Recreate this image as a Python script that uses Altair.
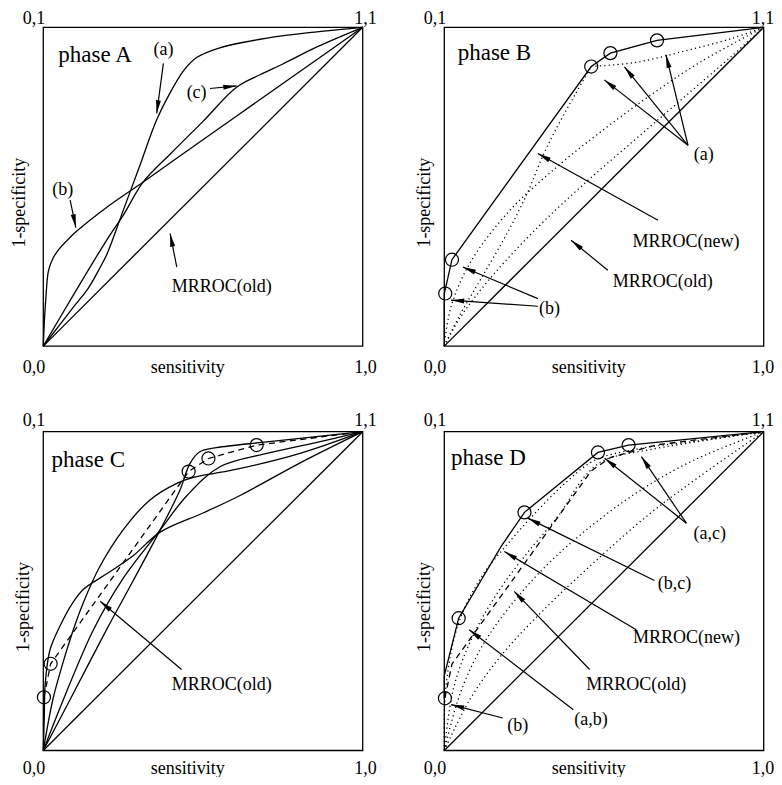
import math
import altair as alt
import pandas as pd

# ---------------- data (normalised panel coordinates: x = sensitivity, y = 1-specificity) ----
# Phase A
A_CURVE_A_X = [0, 0.05, 0.094, 0.14, 0.177, 0.20, 0.25, 0.30, 0.355, 0.40, 0.44, 0.48, 0.55, 0.70, 0.85, 1]
A_CURVE_A_Y = [0, 0.065, 0.122, 0.18, 0.245, 0.29, 0.425, 0.56, 0.71, 0.80, 0.865, 0.905, 0.935, 0.966, 0.985, 1]
A_CURVE_B_X = [0, 0.003, 0.008, 0.016, 0.03, 0.05, 0.073, 0.104, 0.198, 0.313, 0.45, 0.6, 0.8, 1]
A_CURVE_B_Y = [0, 0.07, 0.15, 0.235, 0.275, 0.305, 0.33, 0.36, 0.435, 0.515, 0.612, 0.718, 0.859, 1]
A_CURVE_C_X = [0, 0.10, 0.20, 0.25, 0.313, 0.40, 0.50, 0.605, 0.68, 0.75, 0.86, 1]
A_CURVE_C_Y = [0, 0.17, 0.335, 0.41, 0.515, 0.605, 0.705, 0.812, 0.852, 0.885, 0.94, 1]

# Phase B
B_NEW_X = [0, 0, 0.024, 0.46, 0.52, 0.666, 1]
B_NEW_Y = [0, 0.165, 0.271, 0.877, 0.919, 0.959, 1]
B_CIRCLE_X = [0.003, 0.024, 0.46, 0.52, 0.666]
B_CIRCLE_Y = [0.165, 0.271, 0.877, 0.919, 0.959]
B_DOT1_X = [0, 0.05, 0.12, 0.2, 0.26, 0.31, 0.36, 0.41, 0.46]
B_DOT1_Y = [0, 0.10, 0.22, 0.36, 0.48, 0.60, 0.70, 0.79, 0.877]
B_DOT2_X = [0, 0.02, 0.08, 0.2, 0.35, 0.5, 0.65, 0.8, 1]
B_DOT2_Y = [0, 0.12, 0.26, 0.42, 0.56, 0.68, 0.79, 0.89, 1]
B_DOT3_X = [0, 0.05, 0.15, 0.3, 0.45, 0.6, 0.75, 0.9, 1]
B_DOT3_Y = [0, 0.09, 0.22, 0.38, 0.52, 0.65, 0.78, 0.91, 1]
B_DOT4_X = [0.46, 0.6, 0.75, 0.9, 1]
B_DOT4_Y = [0.877, 0.89, 0.925, 0.965, 1]

# Phase C
C_CURVE_B_X = [0, 0.003, 0.006, 0.021, 0.052, 0.09, 0.125, 0.2, 0.28, 0.366, 0.5, 0.616, 0.8, 1]
C_CURVE_B_Y = [0, 0.10, 0.21, 0.316, 0.39, 0.46, 0.505, 0.555, 0.61, 0.685, 0.745, 0.80, 0.90, 1]
C_ARC_X = [0, 0.03, 0.06, 0.094, 0.125, 0.177, 0.25, 0.334, 0.418, 0.47, 0.595, 0.804, 1]
C_ARC_Y = [0, 0.16, 0.27, 0.379, 0.463, 0.577, 0.692, 0.786, 0.838, 0.857, 0.88, 0.932, 1]
C_CURVE_A_X = [0, 0.084, 0.198, 0.28, 0.366, 0.428, 0.459, 0.49, 0.543, 0.70, 1]
C_CURVE_A_Y = [0, 0.16, 0.379, 0.53, 0.692, 0.817, 0.90, 0.937, 0.95, 0.968, 1]
C_CURVE_C_X = [0, 0.063, 0.157, 0.25, 0.366, 0.45, 0.553, 0.70, 0.85, 1]
C_CURVE_C_Y = [0, 0.16, 0.379, 0.54, 0.692, 0.80, 0.89, 0.932, 0.965, 1]
C_OLD_X = [0.002, 0.023, 0.455, 0.517, 0.668, 1]
C_OLD_Y = [0.167, 0.272, 0.875, 0.916, 0.958, 1]

# Phase D
D_NEW_X = [0, 0, 0.045, 0.178, 0.251, 0.481, 0.577, 1]
D_NEW_Y = [0.164, 0.235, 0.415, 0.64, 0.747, 0.935, 0.958, 1]
D_CIRCLE_X = [0.002, 0.045, 0.251, 0.481, 0.577]
D_CIRCLE_Y = [0.164, 0.415, 0.747, 0.935, 0.958]
D_OLD_X = [0.002, 0.024, 0.46, 0.52, 0.666, 1]
D_OLD_Y = [0.165, 0.271, 0.877, 0.919, 0.959, 1]
D_DOT1_X = [0, 0.005, 0.045, 0.12, 0.2, 0.28, 0.38, 0.47, 0.6, 0.8, 1]
D_DOT1_Y = [0, 0.2, 0.40, 0.55, 0.65, 0.74, 0.84, 0.91, 0.945, 0.972, 1]
D_DOT2_X = [0, 0.03, 0.09, 0.17, 0.26, 0.36, 0.44, 0.5, 0.65, 1]
D_DOT2_Y = [0, 0.2, 0.36, 0.50, 0.62, 0.74, 0.86, 0.91, 0.945, 1]
D_DOT3_X = [0, 0.05, 0.12, 0.22, 0.34, 0.48, 0.62, 0.78, 1]
D_DOT3_Y = [0, 0.18, 0.33, 0.47, 0.60, 0.72, 0.82, 0.91, 1]
D_DOT4_X = [0, 0.08, 0.18, 0.32, 0.48, 0.64, 0.8, 1]
D_DOT4_Y = [0, 0.16, 0.30, 0.45, 0.60, 0.74, 0.86, 1]

# annotation labels and arrows
A_LABELS = ["(a)", "(b)", "(c)", "MRROC(old)"]
A_LABEL_X = [0.376, 0.061, 0.48, 0.559]
A_LABEL_Y = [0.929, 0.491, 0.793, 0.185]
A_ARROW_X1 = [0.376, 0.084, 0.522, 0.418]
A_ARROW_Y1 = [0.887, 0.458, 0.808, 0.248]
A_ARROW_X2 = [0.355, 0.102, 0.605, 0.397]
A_ARROW_Y2 = [0.730, 0.372, 0.816, 0.353]

B_LABELS = ["(a)", "MRROC(new)", "MRROC(old)", "(b)"]
B_LABEL_X = [0.812, 0.757, 0.684, 0.329]
B_LABEL_Y = [0.599, 0.327, 0.201, 0.117]
B_ARROW_X1 = [0.763, 0.763, 0.763, 0.669, 0.512, 0.293, 0.293]
B_ARROW_Y1 = [0.630, 0.630, 0.630, 0.395, 0.238, 0.149, 0.125]
B_ARROW_X2 = [0.501, 0.564, 0.694, 0.293, 0.397, 0.058, 0.021]
B_ARROW_Y2 = [0.835, 0.876, 0.914, 0.604, 0.332, 0.248, 0.144]

C_LABELS = ["MRROC(old)"]
C_LABEL_X = [0.559]
C_LABEL_Y = [0.207]
C_ARROW_X1 = [0.433]
C_ARROW_Y1 = [0.254]
C_ARROW_X2 = [0.178]
C_ARROW_Y2 = [0.468]

D_LABELS = ["(a,c)", "(b,c)", "MRROC(new)", "MRROC(old)", "(a,b)", "(b)"]
D_LABEL_X = [0.831, 0.721, 0.758, 0.601, 0.459, 0.23]
D_LABEL_Y = [0.680, 0.523, 0.353, 0.204, 0.097, 0.076]
D_ARROW_X1 = [0.758, 0.758, 0.658, 0.601, 0.455, 0.404, 0.183]
D_ARROW_Y1 = [0.713, 0.713, 0.533, 0.379, 0.254, 0.128, 0.102]
D_ARROW_X2 = [0.502, 0.617, 0.261, 0.188, 0.219, 0.078, 0.021]
D_ARROW_Y2 = [0.917, 0.922, 0.729, 0.624, 0.499, 0.379, 0.144]

PANELS = ["A", "B", "C", "D"]
PHASE_TEXT = ["phase A", "phase B", "phase C", "phase D"]
PHASE_X = [0.047, 0.042, 0.026, 0.021]
PHASE_Y = [0.913, 0.918, 0.911, 0.917]
CORNER_TEXT = ["0,1", "1,1", "0,0", "1,0"]
CORNER_X = [0, 1, 0, 1]
CORNER_Y = [1, 1, 0, 0]
X_TITLE = "sensitivity"
Y_TITLE = "1-specificity"

# ---------------- layout (pixels inside the chart) ----------------
W, H = 766, 769
PANEL_LEFT = {"A": 35.3, "B": 436.3, "C": 35.3, "D": 436.3}
PANEL_TOP = {"A": 19.3, "B": 19.3, "C": 423.7, "D": 423.7}
PW, PH = 319.4, 318.8
LEFT_DX = -9.3
RIGHT_DX = {"A": 2.8, "B": -0.8, "C": 2.8, "D": -0.8}
TOP_DY = {"A": -8.3, "B": -8.3, "C": -11.0, "D": -11.0}
BOTTOM_DY = {"A": 21.5, "B": 21.5, "C": 18.5, "D": 18.5}
FONT = "Liberation Serif"


def gx(p, x):
    return PANEL_LEFT[p] + x * PW


def gy(p, y):
    return PANEL_TOP[p] + (1 - y) * PH


# ---------------- build tables ----------------
curves = [
    ("A", "a", "curve", A_CURVE_A_X, A_CURVE_A_Y),
    ("A", "b", "curve", A_CURVE_B_X, A_CURVE_B_Y),
    ("A", "c", "curve", A_CURVE_C_X, A_CURVE_C_Y),
    ("B", "new", "poly", B_NEW_X, B_NEW_Y),
    ("B", "d1", "dot", B_DOT1_X, B_DOT1_Y),
    ("B", "d2", "dot", B_DOT2_X, B_DOT2_Y),
    ("B", "d3", "dot", B_DOT3_X, B_DOT3_Y),
    ("B", "d4", "dot", B_DOT4_X, B_DOT4_Y),
    ("C", "b", "curve", C_CURVE_B_X, C_CURVE_B_Y),
    ("C", "arc", "curve", C_ARC_X, C_ARC_Y),
    ("C", "a", "curve", C_CURVE_A_X, C_CURVE_A_Y),
    ("C", "c", "curve", C_CURVE_C_X, C_CURVE_C_Y),
    ("C", "old", "dash", C_OLD_X, C_OLD_Y),
    ("D", "new", "poly", D_NEW_X, D_NEW_Y),
    ("D", "old", "dash", D_OLD_X, D_OLD_Y),
    ("D", "d1", "dot", D_DOT1_X, D_DOT1_Y),
    ("D", "d2", "dot", D_DOT2_X, D_DOT2_Y),
    ("D", "d3", "dot", D_DOT3_X, D_DOT3_Y),
    ("D", "d4", "dot", D_DOT4_X, D_DOT4_Y),
]
for p in PANELS:
    curves.append((p, "diag", "poly", [0, 1], [0, 1]))

rows = []
for p, name, style, xs, ys in curves:
    for i, (x, y) in enumerate(zip(xs, ys)):
        rows.append({"id": p + name, "style": style, "order": i, "gx": gx(p, x), "gy": gy(p, y)})
lines = pd.DataFrame(rows)

circ_rows = []
for p, xs, ys in [("B", B_CIRCLE_X, B_CIRCLE_Y), ("C", C_OLD_X[:5], C_OLD_Y[:5]), ("D", D_CIRCLE_X, D_CIRCLE_Y)]:
    for x, y in zip(xs, ys):
        circ_rows.append({"gx": gx(p, x), "gy": gy(p, y)})
circles = pd.DataFrame(circ_rows)

box = pd.DataFrame([{"gx": gx(p, 0), "gx2": gx(p, 1), "gy": gy(p, 1), "gy2": gy(p, 0)} for p in PANELS])

ann = {
    "A": (A_LABELS, A_LABEL_X, A_LABEL_Y, A_ARROW_X1, A_ARROW_Y1, A_ARROW_X2, A_ARROW_Y2),
    "B": (B_LABELS, B_LABEL_X, B_LABEL_Y, B_ARROW_X1, B_ARROW_Y1, B_ARROW_X2, B_ARROW_Y2),
    "C": (C_LABELS, C_LABEL_X, C_LABEL_Y, C_ARROW_X1, C_ARROW_Y1, C_ARROW_X2, C_ARROW_Y2),
    "D": (D_LABELS, D_LABEL_X, D_LABEL_Y, D_ARROW_X1, D_ARROW_Y1, D_ARROW_X2, D_ARROW_Y2),
}
text_rows, arrow_rows = [], []
for p in PANELS:
    labs, lx, ly, x1, y1, x2, y2 = ann[p]
    for t, x, y in zip(labs, lx, ly):
        text_rows.append({"text": t, "gx": gx(p, x), "gy": gy(p, y)})
    for a, b, c, d in zip(x1, y1, x2, y2):
        sx, sy, ex, ey = gx(p, a), gy(p, b), gx(p, c), gy(p, d)
        ang = math.degrees(math.atan2(ex - sx, -(ey - sy))) % 360
        arrow_rows.append({"gx": sx, "gy": sy, "gx2": ex, "gy2": ey, "angle": ang})
    for t, cx, cy in zip(CORNER_TEXT, CORNER_X, CORNER_Y):
        dx = LEFT_DX if cx == 0 else RIGHT_DX[p]
        dy = TOP_DY[p] if cy == 1 else BOTTOM_DY[p]
        text_rows.append({"text": t, "gx": gx(p, cx) + dx, "gy": gy(p, cy) + dy})
    text_rows.append({"text": X_TITLE, "gx": gx(p, 0.452), "gy": gy(p, 0) + BOTTOM_DY[p]})
texts = pd.DataFrame(text_rows)
arrows = pd.DataFrame(arrow_rows)

ytitle = pd.DataFrame([{"text": Y_TITLE, "gx": gx(p, 0) + (-23 if p == "A" else -19), "gy": gy(p, 0.45)} for p in PANELS])
phases = pd.DataFrame([{"text": t, "gx": gx(p, x), "gy": gy(p, y)} for p, t, x, y in zip(PANELS, PHASE_TEXT, PHASE_X, PHASE_Y)])

# ---------------- chart ----------------
XS = alt.Scale(domain=[0, W], nice=False, zero=False)
YS = alt.Scale(domain=[0, H], nice=False, zero=False, reverse=True)
X = alt.X("gx:Q", scale=XS, axis=None)
Y = alt.Y("gy:Q", scale=YS, axis=None)

base_line = alt.Chart(lines).encode(x=X, y=Y, detail="id:N", order="order:Q")
curve_layer = base_line.mark_line(interpolate="catmull-rom", color="black", strokeWidth=1.3).transform_filter(alt.datum.style == "curve")
poly_layer = base_line.mark_line(color="black", strokeWidth=1.3).transform_filter(alt.datum.style == "poly")
dot_layer = base_line.mark_line(interpolate="catmull-rom", color="black", strokeWidth=1.3, strokeDash=[1.2, 3.2]).transform_filter(alt.datum.style == "dot")
dash_layer = base_line.mark_line(color="black", strokeWidth=1.3, strokeDash=[6, 4.5]).transform_filter(alt.datum.style == "dash")

box_layer = alt.Chart(box).mark_rect(fillOpacity=0, stroke="black", strokeWidth=1.3).encode(
    x=X, x2="gx2:Q", y=Y, y2="gy2:Q")

circle_layer = alt.Chart(circles).mark_point(shape="circle", filled=False, size=170, color="black",
                                              strokeWidth=1.2, opacity=1).encode(x=X, y=Y)

rule_layer = alt.Chart(arrows).mark_rule(color="black", strokeWidth=1.2).encode(x=X, y=Y, x2="gx2:Q", y2="gy2:Q")
head_layer = alt.Chart(arrows).mark_point(shape="M0,0L0.42,2.2L-0.42,2.2Z", filled=True, size=144,
                                           color="black", opacity=1).encode(
    x=alt.X("gx2:Q", scale=XS, axis=None),
    y=alt.Y("gy2:Q", scale=YS, axis=None),
    angle=alt.Angle("angle:Q", scale=None))

text_layer = alt.Chart(texts).mark_text(font=FONT, fontSize=18, color="black", align="center",
                                        baseline="middle").encode(x=X, y=Y, text="text:N")
ytitle_layer = alt.Chart(ytitle).mark_text(font=FONT, fontSize=18, color="black", align="center",
                                           baseline="middle", angle=270).encode(x=X, y=Y, text="text:N")
phase_layer = alt.Chart(phases).mark_text(font=FONT, fontSize=23, color="black", align="left",
                                          baseline="middle").encode(x=X, y=Y, text="text:N")

chart = alt.layer(
    box_layer, poly_layer, curve_layer, dot_layer, dash_layer, circle_layer,
    rule_layer, head_layer, text_layer, ytitle_layer, phase_layer
).properties(
    width=W, height=H, padding=0, autosize=alt.AutoSizeParams(type="none")
).configure_view(stroke=None)

chart.save("out.html", embed_options={"renderer": "svg", "actions": False})
